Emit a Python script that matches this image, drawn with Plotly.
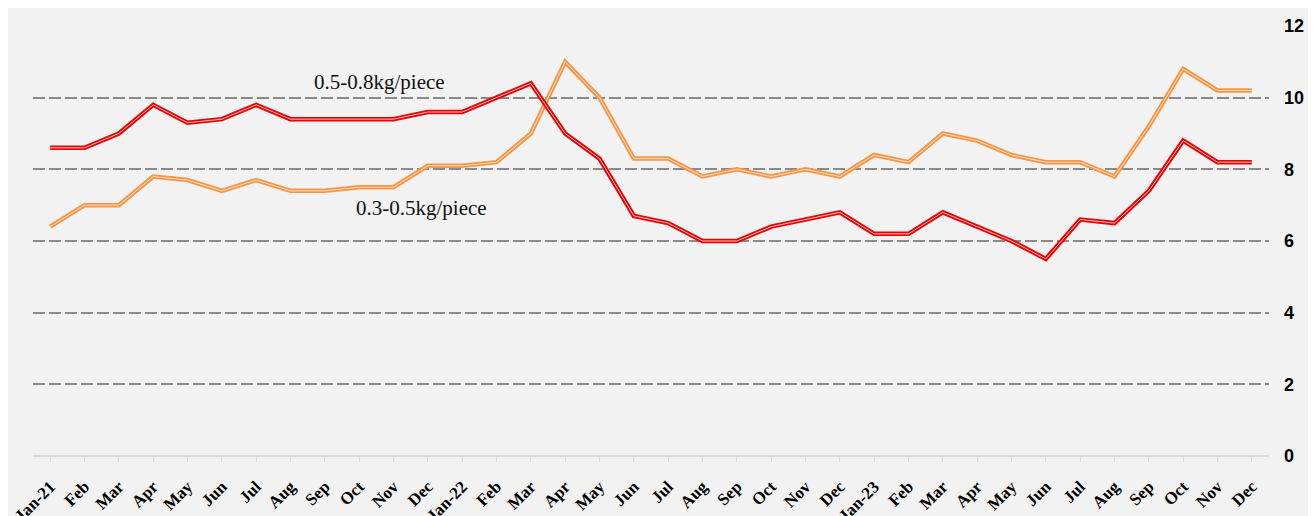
import plotly.graph_objects as go

months = ["Jan-21", "Feb", "Mar", "Apr", "May", "Jun", "Jul", "Aug", "Sep", "Oct", "Nov", "Dec",
          "Jan-22", "Feb", "Mar", "Apr", "May", "Jun", "Jul", "Aug", "Sep", "Oct", "Nov", "Dec",
          "Jan-23", "Feb", "Mar", "Apr", "May", "Jun", "Jul", "Aug", "Sep", "Oct", "Nov", "Dec"]

large_pieces = [8.6, 8.6, 9.0, 9.8, 9.3, 9.4, 9.8, 9.4, 9.4, 9.4, 9.4, 9.6,
                9.6, 10.0, 10.4, 9.0, 8.3, 6.7, 6.5, 6.0, 6.0, 6.4, 6.6, 6.8,
                6.2, 6.2, 6.8, 6.4, 6.0, 5.5, 6.6, 6.5, 7.4, 8.8, 8.2, 8.2]

small_pieces = [6.4, 7.0, 7.0, 7.8, 7.7, 7.4, 7.7, 7.4, 7.4, 7.5, 7.5, 8.1,
                8.1, 8.2, 9.0, 11.0, 10.0, 8.3, 8.3, 7.8, 8.0, 7.8, 8.0, 7.8,
                8.4, 8.2, 9.0, 8.8, 8.4, 8.2, 8.2, 7.8, 9.2, 10.8, 10.2, 10.2]

y_ticks = [0, 2, 4, 6, 8, 10, 12]

x_idx = list(range(len(months)))

fig = go.Figure()

series = [
    ("0.3-0.5kg/piece", small_pieces, "#f79646", "rgba(255,230,205,0.9)"),
    ("0.5-0.8kg/piece", large_pieces, "#ee0000", "rgba(255,215,215,0.9)"),
]
for name, vals, outer, inner in series:
    fig.add_trace(go.Scatter(x=x_idx, y=vals, mode="lines", name=name,
                             line=dict(color=outer, width=4.5), hoverinfo="skip"))
    fig.add_trace(go.Scatter(x=x_idx, y=vals, mode="lines", name=name,
                             line=dict(color=inner, width=1), hoverinfo="skip"))

fig.add_annotation(x=9.6, y=10.43, xref="x", yref="y", text="0.5-0.8kg/piece", showarrow=False,
                   font=dict(family="Liberation Serif", size=21, color="#111111"))
fig.add_annotation(x=10.82, y=6.91, xref="x", yref="y", text="0.3-0.5kg/piece", showarrow=False,
                   font=dict(family="Liberation Serif", size=21, color="#111111"))

fig.update_layout(
    width=1308, height=508,
    margin=dict(l=25, r=47, t=18, b=60),
    paper_bgcolor="#f2f2f2", plot_bgcolor="#f2f2f2",
    showlegend=False,
    xaxis=dict(range=[-0.5, 35.5], tickmode="array", tickvals=x_idx, ticktext=months,
               tickangle=-45, showgrid=False, zeroline=False, automargin=False,
               showline=False, ticks="outside", ticklen=5, tickcolor="#d9d9d9",
               ticklabelstandoff=8,
               tickfont=dict(family="Liberation Serif", size=17, color="#000000", weight="bold")),
    yaxis=dict(range=[0, 12], side="right", tickmode="array", tickvals=y_ticks, automargin=False,
               showgrid=True, gridcolor="#8a8a8a", gridwidth=1.5, griddash="11.5px,4.5px",
               zeroline=True, zerolinecolor="#d9d9d9", zerolinewidth=1.5,
               showline=False, ticks="", ticklabelstandoff=14,
               tickfont=dict(family="Liberation Sans", size=18, color="#000000", weight="bold")),
)

fig.write_html("out.html")
